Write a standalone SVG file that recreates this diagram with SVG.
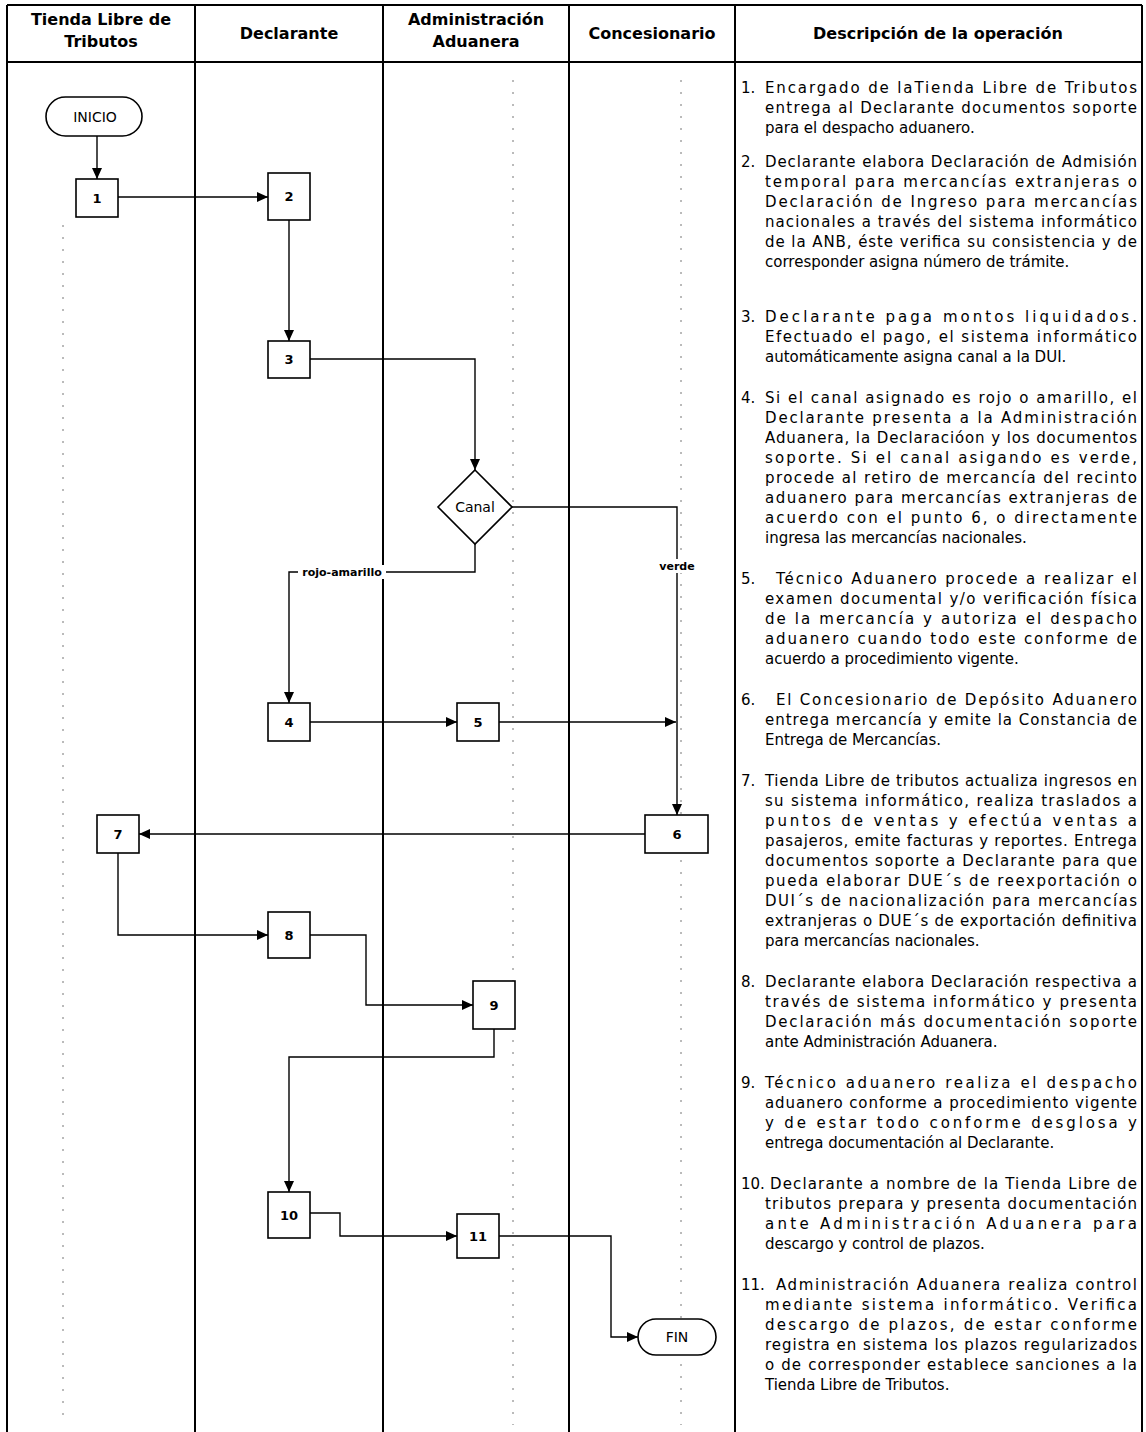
<svg xmlns="http://www.w3.org/2000/svg" width="1146" height="1432" viewBox="0 0 1146 1432">
<defs>
<style>
.lane{stroke:#000;stroke-width:2;fill:none}
.guide{stroke:#777;stroke-width:1;stroke-dasharray:2 10;fill:none}
.box{fill:#fff;stroke:#000;stroke-width:1.6}
.conn{fill:none;stroke:#000;stroke-width:1.4}
.hdr{font-family:"DejaVu Sans",Verdana,sans-serif;font-weight:bold;font-size:16px;text-anchor:middle}
.d{font-family:"DejaVu Sans",Verdana,sans-serif;font-size:15px}
.num{font-family:"DejaVu Sans",Verdana,sans-serif;font-size:13px;font-weight:bold;text-anchor:middle}
.term{font-family:"DejaVu Sans",Verdana,sans-serif;font-size:14px;text-anchor:middle}
.lbl{font-family:"DejaVu Sans",Verdana,sans-serif;font-size:11px;font-weight:bold;text-anchor:middle}
</style>
<marker id="ah" markerWidth="11" markerHeight="10" refX="11" refY="5" orient="auto" markerUnits="userSpaceOnUse">
<path d="M0,0 L11,5 L0,10 z" fill="#000"/>
</marker>
</defs>
<rect width="1146" height="1432" fill="#fff"/>
<g id="guides">
<line class="guide" x1="63" y1="225" x2="63" y2="1425"/>
<line class="guide" x1="513" y1="80" x2="513" y2="1425"/>
<line class="guide" x1="681" y1="80" x2="681" y2="1425"/>
</g>
<g id="table">
<line class="lane" x1="7" y1="5" x2="1142" y2="5"/>
<line class="lane" x1="7" y1="62" x2="1142" y2="62"/>
<line class="lane" x1="7" y1="5" x2="7" y2="1432"/>
<line class="lane" x1="195" y1="5" x2="195" y2="1432"/>
<line class="lane" x1="383" y1="5" x2="383" y2="1432"/>
<line class="lane" x1="569" y1="5" x2="569" y2="1432"/>
<line class="lane" x1="735" y1="5" x2="735" y2="1432"/>
<line class="lane" x1="1142" y1="5" x2="1142" y2="1432"/>
<text class="hdr" x="101" y="25">Tienda Libre de</text>
<text class="hdr" x="101" y="47">Tributos</text>
<text class="hdr" x="289" y="39">Declarante</text>
<text class="hdr" x="476" y="25">Administración</text>
<text class="hdr" x="476" y="47">Aduanera</text>
<text class="hdr" x="652" y="39">Concesionario</text>
<text class="hdr" x="938" y="39">Descripción de la operación</text>
</g>
<g id="connectors">
<path class="conn" d="M97,136 V179" marker-end="url(#ah)"/>
<path class="conn" d="M118,197 H268" marker-end="url(#ah)"/>
<path class="conn" d="M289,220 V341" marker-end="url(#ah)"/>
<path class="conn" d="M310,359 H475 V470" marker-end="url(#ah)"/>
<path class="conn" d="M475,544 V572 H289 V703" marker-end="url(#ah)"/>
<path class="conn" d="M512,507 H677 V815" marker-end="url(#ah)"/>
<path class="conn" d="M310,722 H457" marker-end="url(#ah)"/>
<path class="conn" d="M499,722 H676" marker-end="url(#ah)"/>
<path class="conn" d="M645,834 H139" marker-end="url(#ah)"/>
<path class="conn" d="M118,853 V935 H268" marker-end="url(#ah)"/>
<path class="conn" d="M310,935 H366 V1005 H473" marker-end="url(#ah)"/>
<path class="conn" d="M494,1029 V1057 H289 V1192" marker-end="url(#ah)"/>
<path class="conn" d="M310,1213 H340 V1236 H457" marker-end="url(#ah)"/>
<path class="conn" d="M499,1236 H611 V1337 H638" marker-end="url(#ah)"/>
<rect x="298" y="565" width="88" height="14" fill="#fff"/>
<text class="lbl" x="342" y="576">rojo-amarillo</text>
<rect x="658" y="559" width="38" height="14" fill="#fff"/>
<text class="lbl" x="677" y="570">verde</text>
</g>
<g id="inicio"><rect class="box" x="46" y="97" width="96" height="39" rx="19.5"/><text class="term" x="95" y="122">INICIO</text></g>
<g id="n1"><rect class="box" x="76" y="179" width="42" height="38"/><text class="num" x="97" y="203">1</text></g>
<g id="n2"><rect class="box" x="268" y="173" width="42" height="47"/><text class="num" x="289" y="201">2</text></g>
<g id="n3"><rect class="box" x="268" y="341" width="42" height="37"/><text class="num" x="289" y="364">3</text></g>
<g id="canal"><polygon class="box" points="475,470 512,507 475,544 438,507"/><text class="term" x="475" y="512">Canal</text></g>
<g id="n4"><rect class="box" x="268" y="703" width="42" height="38"/><text class="num" x="289" y="727">4</text></g>
<g id="n5"><rect class="box" x="457" y="703" width="42" height="38"/><text class="num" x="478" y="727">5</text></g>
<g id="n6"><rect class="box" x="645" y="815" width="63" height="38"/><text class="num" x="677" y="839">6</text></g>
<g id="n7"><rect class="box" x="97" y="815" width="42" height="38"/><text class="num" x="118" y="839">7</text></g>
<g id="n8"><rect class="box" x="268" y="912" width="42" height="46"/><text class="num" x="289" y="940">8</text></g>
<g id="n9"><rect class="box" x="473" y="981" width="42" height="48"/><text class="num" x="494" y="1010">9</text></g>
<g id="n10"><rect class="box" x="268" y="1192" width="42" height="46"/><text class="num" x="289" y="1220">10</text></g>
<g id="n11"><rect class="box" x="457" y="1214" width="42" height="44"/><text class="num" x="478" y="1241">11</text></g>
<g id="fin"><rect class="box" x="638" y="1319" width="78" height="36" rx="18"/><text class="term" x="677" y="1342">FIN</text></g>
<g id="descripcion" class="d">
<text x="741" y="93">1.</text>
<text x="765" y="93" textLength="372" lengthAdjust="spacing">Encargado de laTienda Libre de Tributos</text>
<text x="765" y="113" textLength="372" lengthAdjust="spacing">entrega al Declarante documentos soporte</text>
<text x="765" y="133">para el despacho aduanero.</text>
<text x="741" y="167">2.</text>
<text x="765" y="167" textLength="372" lengthAdjust="spacing">Declarante elabora Declaración de Admisión</text>
<text x="765" y="187" textLength="372" lengthAdjust="spacing">temporal  para mercancías extranjeras o</text>
<text x="765" y="207" textLength="372" lengthAdjust="spacing">Declaración de Ingreso para mercancías</text>
<text x="765" y="227" textLength="372" lengthAdjust="spacing">nacionales a través del sistema informático</text>
<text x="765" y="247" textLength="372" lengthAdjust="spacing">de la ANB, éste verifica su consistencia y de</text>
<text x="765" y="267">corresponder asigna número de trámite.</text>
<text x="741" y="322">3.</text>
<text x="765" y="322" textLength="372" lengthAdjust="spacing">Declarante paga montos liquidados.</text>
<text x="765" y="342" textLength="372" lengthAdjust="spacing">Efectuado el pago, el sistema informático</text>
<text x="765" y="362">automáticamente asigna canal a la DUI.</text>
<text x="741" y="403">4.</text>
<text x="765" y="403" textLength="372" lengthAdjust="spacing">Si el canal asignado es rojo o amarillo, el</text>
<text x="765" y="423" textLength="372" lengthAdjust="spacing">Declarante presenta a la Administración</text>
<text x="765" y="443" textLength="372" lengthAdjust="spacing">Aduanera, la Declaracióon y los documentos</text>
<text x="765" y="463" textLength="372" lengthAdjust="spacing">soporte. Si el canal asigando es verde,</text>
<text x="765" y="483" textLength="372" lengthAdjust="spacing">procede al retiro de mercancía del recinto</text>
<text x="765" y="503" textLength="372" lengthAdjust="spacing">aduanero para mercancías extranjeras de</text>
<text x="765" y="523" textLength="372" lengthAdjust="spacing">acuerdo con el punto 6, o  directamente</text>
<text x="765" y="543">ingresa las mercancías nacionales.</text>
<text x="741" y="584">5.</text>
<text x="776" y="584" textLength="361" lengthAdjust="spacing">Técnico Aduanero procede a realizar el</text>
<text x="765" y="604" textLength="372" lengthAdjust="spacing">examen documental y/o verificación física</text>
<text x="765" y="624" textLength="372" lengthAdjust="spacing">de la mercancía y autoriza el despacho</text>
<text x="765" y="644" textLength="372" lengthAdjust="spacing">aduanero cuando todo este conforme de</text>
<text x="765" y="664">acuerdo a procedimiento vigente.</text>
<text x="741" y="705">6.</text>
<text x="776" y="705" textLength="361" lengthAdjust="spacing">El Concesionario de Depósito Aduanero</text>
<text x="765" y="725" textLength="372" lengthAdjust="spacing">entrega mercancía y emite la Constancia de</text>
<text x="765" y="745">Entrega de Mercancías.</text>
<text x="741" y="786">7.</text>
<text x="765" y="786" textLength="372" lengthAdjust="spacing">Tienda Libre de tributos actualiza ingresos en</text>
<text x="765" y="806" textLength="372" lengthAdjust="spacing">su sistema informático, realiza traslados a</text>
<text x="765" y="826" textLength="372" lengthAdjust="spacing">puntos de ventas y efectúa ventas a</text>
<text x="765" y="846" textLength="372" lengthAdjust="spacing">pasajeros, emite facturas y reportes. Entrega</text>
<text x="765" y="866" textLength="372" lengthAdjust="spacing">documentos soporte a Declarante para que</text>
<text x="765" y="886" textLength="372" lengthAdjust="spacing">pueda elaborar DUE´s de reexportación o</text>
<text x="765" y="906" textLength="372" lengthAdjust="spacing">DUI´s de nacionalización para mercancías</text>
<text x="765" y="926" textLength="372" lengthAdjust="spacing">extranjeras o DUE´s de exportación definitiva</text>
<text x="765" y="946">para mercancías nacionales.</text>
<text x="741" y="987">8.</text>
<text x="765" y="987" textLength="372" lengthAdjust="spacing">Declarante elabora Declaración respectiva a</text>
<text x="765" y="1007" textLength="372" lengthAdjust="spacing">través de sistema informático y presenta</text>
<text x="765" y="1027" textLength="372" lengthAdjust="spacing">Declaración más documentación soporte</text>
<text x="765" y="1047">ante Administración Aduanera.</text>
<text x="741" y="1088">9.</text>
<text x="765" y="1088" textLength="372" lengthAdjust="spacing">Técnico aduanero realiza el despacho</text>
<text x="765" y="1108" textLength="372" lengthAdjust="spacing">aduanero conforme a procedimiento vigente</text>
<text x="765" y="1128" textLength="372" lengthAdjust="spacing">y de estar todo conforme desglosa y</text>
<text x="765" y="1148">entrega documentación al Declarante.</text>
<text x="741" y="1189">10.</text>
<text x="770" y="1189" textLength="367" lengthAdjust="spacing">Declarante a nombre de la Tienda Libre de</text>
<text x="765" y="1209" textLength="372" lengthAdjust="spacing">tributos prepara y presenta documentación</text>
<text x="765" y="1229" textLength="372" lengthAdjust="spacing">ante Administración Aduanera para</text>
<text x="765" y="1249">descargo y control de plazos.</text>
<text x="741" y="1290">11.</text>
<text x="776" y="1290" textLength="361" lengthAdjust="spacing">Administración Aduanera realiza control</text>
<text x="765" y="1310" textLength="372" lengthAdjust="spacing">mediante sistema informático. Verifica</text>
<text x="765" y="1330" textLength="372" lengthAdjust="spacing">descargo de plazos, de estar conforme</text>
<text x="765" y="1350" textLength="372" lengthAdjust="spacing">registra en sistema los plazos regularizados</text>
<text x="765" y="1370" textLength="372" lengthAdjust="spacing">o de corresponder  establece sanciones a la</text>
<text x="765" y="1390">Tienda Libre de Tributos.</text>
</g>
</svg>
